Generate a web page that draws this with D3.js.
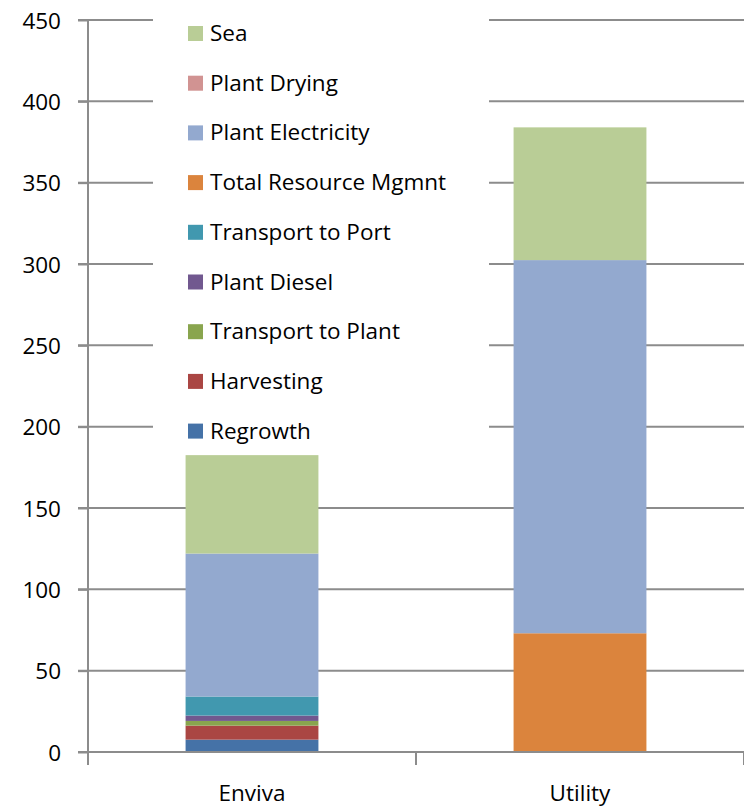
<!DOCTYPE html>
<html>
<head>
<meta charset="utf-8">
<script src="https://cdn.jsdelivr.net/npm/d3@7"></script>
<style>
  html, body { margin: 0; padding: 0; background: #fff; }
  svg { display: block; }
  text { font-family: "Open Sans", "Noto Sans", sans-serif; fill: #000; }
</style>
</head>
<body>
<svg id="chart" width="744" height="807"></svg>
<script>
const categories = ["Enviva", "Utility"];
const seriesNames = ["Regrowth", "Harvesting", "Transport to Plant", "Plant Diesel",
  "Transport to Port", "Total Resource Mgmnt", "Plant Electricity", "Plant Drying", "Sea"];
const seriesColors = ["#4572A7", "#AA4643", "#89A54E", "#71588F", "#4198AF",
  "#DB843D", "#93A9CF", "#D19392", "#B9CD96"];
const regrowth = [7.6, 0];
const harvesting = [8.6, 0];
const transportToPlant = [2.9, 0];
const plantDiesel = [3.3, 0];
const transportToPort = [11.7, 0];
const totalResourceMgmnt = [0, 73];
const plantElectricity = [87.9, 229.4];
const plantDrying = [0, 0];
const sea = [60.5, 81.6];
const yTicks = [0, 50, 100, 150, 200, 250, 300, 350, 400, 450];

const seriesValues = [regrowth, harvesting, transportToPlant, plantDiesel, transportToPort,
  totalResourceMgmnt, plantElectricity, plantDrying, sea];

const rows = categories.map((c, i) => {
  const r = { category: c };
  seriesNames.forEach((s, j) => { r[s] = seriesValues[j][i]; });
  return r;
});

const svg = d3.select("#chart");
const pL = 88, pR = 744, pT = 20, pB = 752;
const fs = "22.5px";

const x = d3.scaleBand().domain(categories).range([pL, pR]).paddingInner(0.595).paddingOuter(0.2975);
const y = d3.scaleLinear().domain([0, 450]).range([pB, pT]);

const grid = "#8c8c8c";

// gridlines
svg.append("g").selectAll("line").data(yTicks.filter(t => t > 0)).join("line")
  .attr("x1", pL - 10).attr("x2", pR)
  .attr("y1", d => y(d)).attr("y2", d => y(d))
  .attr("stroke", grid).attr("stroke-width", 2);

// bars
const stack = d3.stack().keys(seriesNames)(rows);
svg.append("g").selectAll("g").data(stack).join("g")
  .attr("fill", (d, i) => seriesColors[i])
  .selectAll("rect").data(d => d).join("rect")
  .attr("x", d => x(d.data.category))
  .attr("width", x.bandwidth())
  .attr("y", d => y(d[1]))
  .attr("height", d => Math.max(0, y(d[0]) - y(d[1])));

// y axis
const yAxis = svg.append("g").attr("transform", `translate(${pL},0)`)
  .call(d3.axisLeft(y).tickValues(yTicks).tickSize(10).tickPadding(17));
yAxis.select(".domain").attr("stroke", grid).attr("stroke-width", 2).attr("d", `M0,${pT}V${pB + 13}`);
yAxis.selectAll(".tick line").attr("stroke", grid).attr("stroke-width", 2);
yAxis.selectAll(".tick text").style("font-size", fs).attr("font-family", null).attr("dy", "0.36em");

// x axis
const xAxisG = svg.append("g").attr("transform", `translate(0,${pB})`);
xAxisG.append("line").attr("x1", pL - 10).attr("x2", pR).attr("stroke", grid).attr("stroke-width", 2);
const xTickPos = [pL, pL + x.step(), pR];
xAxisG.selectAll("line.tk").data(xTickPos).join("line").attr("class", "tk")
  .attr("x1", d => d).attr("x2", d => d).attr("y1", 0).attr("y2", 13)
  .attr("stroke", grid).attr("stroke-width", 2);
xAxisG.selectAll("text").data(categories).join("text")
  .attr("x", d => x(d) + x.bandwidth() / 2).attr("y", 49)
  .attr("text-anchor", "middle").style("font-size", fs).text(d => d);

// legend
const lg = svg.append("g");
lg.append("rect").attr("x", 153).attr("y", 6).attr("width", 336).attr("height", 440).attr("fill", "#fff");
const legendOrder = seriesNames.slice().reverse();
const items = lg.selectAll("g.item").data(legendOrder).join("g").attr("class", "item")
  .attr("transform", (d, i) => `translate(188,${26 + i * 49.7})`);
items.append("rect").attr("width", 15).attr("height", 15)
  .attr("fill", d => seriesColors[seriesNames.indexOf(d)]);
items.append("text").attr("x", 22).attr("y", 15).style("font-size", fs).text(d => d);
</script>
</body>
</html>
